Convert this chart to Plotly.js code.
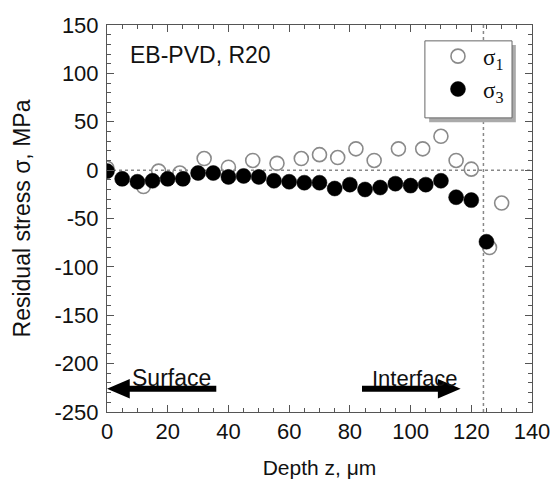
<!DOCTYPE html>
<html>
<head>
<meta charset="utf-8">
<script src="https://cdn.plot.ly/plotly-3.0.1.min.js"></script>
<style>html,body{margin:0;padding:0;background:#fff;}#chart{width:554px;height:482px;}</style>
</head>
<body>
<div id="chart"></div>
<script>
// sigma_1 (open circles)
var depth1 = [0, 12, 17, 24, 32, 40, 48, 56, 64, 70, 76, 82, 88, 96, 104, 110, 115, 120, 126, 130];
var sigma1 = [2, -17, -1, -3, 12, 3, 10, 7, 12, 16, 13, 22, 10, 22, 22, 35, 10, 1, -80, -34];
// sigma_3 (filled circles)
var depth3 = [0, 5, 10, 15, 20, 25, 30, 35, 40, 45, 50, 55, 60, 65, 70, 75, 80, 85, 90, 95, 100, 105, 110, 115, 120, 125];
var sigma3 = [-1, -9, -12, -11, -9, -9, -3, -3, -7, -6, -7, -11, -12, -13, -13, -19, -15, -20, -18, -14, -16, -15, -11, -28, -31, -74];
var seriesNames = ['σ<sub>1</sub>', 'σ<sub>3</sub>'];
var xTickVals = [0, 20, 40, 60, 80, 100, 120, 140];
var xTickText = ['0', '20', '40', '60', '80', '100', '120', '140'];
var yTickVals = [150, 100, 50, 0, -50, -100, -150, -200, -250];
var yTickText = ['150', '100', '50', '0', '-50', '-100', '-150', '-200', '-250'];
var interfaceDepth = 124;

var font = 'Liberation Sans, Arial, sans-serif';
var traces = [
  {x: depth1, y: sigma1, name: seriesNames[0], type: 'scatter', mode: 'markers',
   marker: {symbol: 'circle-open', size: 14, color: '#8a8a8a', line: {width: 1.6, color: '#8a8a8a'}}},
  {x: depth3, y: sigma3, name: seriesNames[1], type: 'scatter', mode: 'markers',
   marker: {symbol: 'circle', size: 15, color: '#000', line: {width: 0.5, color: '#000'}}}
];

var axisCommon = {
  showgrid: false, zeroline: false, showline: true, linecolor: '#555', linewidth: 1,
  mirror: 'allticks', ticks: 'inside', ticklen: 7, tickcolor: '#555', tickwidth: 1,
  tickfont: {family: font, size: 22, color: '#111'}
};

var layout = {
  width: 554, height: 482,
  margin: {l: 107, r: 22, t: 25, b: 70},
  paper_bgcolor: '#fff', plot_bgcolor: '#fff',
  showlegend: true,
  legend: {x: 0.767, y: 0.975, xanchor: 'left', yanchor: 'top', bgcolor: 'rgba(0,0,0,0)',
           borderwidth: 0, font: {family: 'Liberation Serif, Times New Roman, serif', size: 23, color: '#111'},
           itemwidth: 40},
  xaxis: Object.assign({}, axisCommon, {
    range: [0, 140], tickmode: 'array', tickvals: xTickVals, ticktext: xTickText,
    minor: {dtick: 5, tick0: 0, ticks: 'inside', ticklen: 4, tickcolor: '#555'},
    title: {text: 'Depth z, μm', font: {family: font, size: 21, color: '#111'}, standoff: 16}
  }),
  yaxis: Object.assign({}, axisCommon, {
    range: [-250, 150], tickmode: 'array', tickvals: yTickVals, ticktext: yTickText,
    ticklabelstandoff: 3,
    minor: {dtick: 10, tick0: 0, ticks: 'inside', ticklen: 4, tickcolor: '#555'},
    title: {text: 'Residual stress σ, MPa', font: {family: font, size: 23, color: '#111'}, standoff: 17}
  }),
  shapes: [
    {type: 'line', xref: 'paper', yref: 'y', x0: 0, x1: 1, y0: 0, y1: 0, line: {color: '#888', width: 1.5, dash: 'dot'}, layer: 'below'},
    {type: 'line', xref: 'x', yref: 'paper', x0: interfaceDepth, x1: interfaceDepth, y0: 0, y1: 1, line: {color: '#888', width: 1.5, dash: 'dot'}, layer: 'below'},
    // legend box shadow + box
    {type: 'rect', xref: 'paper', yref: 'paper', x0: 0.758, x1: 0.962, y0: 0.749, y1: 0.948, fillcolor: '#aaa', line: {width: 0}, layer: 'above'},
    {type: 'rect', xref: 'paper', yref: 'paper', x0: 0.748, x1: 0.953, y0: 0.760, y1: 0.959, fillcolor: '#fff', line: {width: 1, color: '#666'}, layer: 'above'},
    // Surface arrow
    {type: 'line', xref: 'x', yref: 'y', x0: 36, x1: 6, y0: -226, y1: -226, line: {color: '#000', width: 6}, layer: 'above'},
    {type: 'path', xref: 'x', yref: 'y', path: 'M 0,-226 L 7.5,-216 L 7.5,-236 Z', fillcolor: '#000', line: {width: 0}, layer: 'above'},
    // Interface arrow
    {type: 'line', xref: 'x', yref: 'y', x0: 84, x1: 110, y0: -226, y1: -226, line: {color: '#000', width: 6}, layer: 'above'},
    {type: 'path', xref: 'x', yref: 'y', path: 'M 116.5,-226 L 109,-216 L 109,-236 Z', fillcolor: '#000', line: {width: 0}, layer: 'above'}
  ],
  annotations: [
    {xref: 'paper', yref: 'paper', x: 0.05, y: 0.922, xanchor: 'left', yanchor: 'middle', showarrow: false,
     text: 'EB-PVD, R20', font: {family: font, size: 23, color: '#111'}},
    {xref: 'x', yref: 'y', x: 21.4, y: -215, showarrow: false, text: 'Surface', font: {family: font, size: 23, color: '#111'}},
    {xref: 'x', yref: 'y', x: 101.4, y: -215, showarrow: false, text: 'Interface', font: {family: font, size: 22, color: '#111'}}
  ]
};

Plotly.newPlot('chart', traces, layout, {displayModeBar: false, staticPlot: true});
</script>
</body>
</html>
